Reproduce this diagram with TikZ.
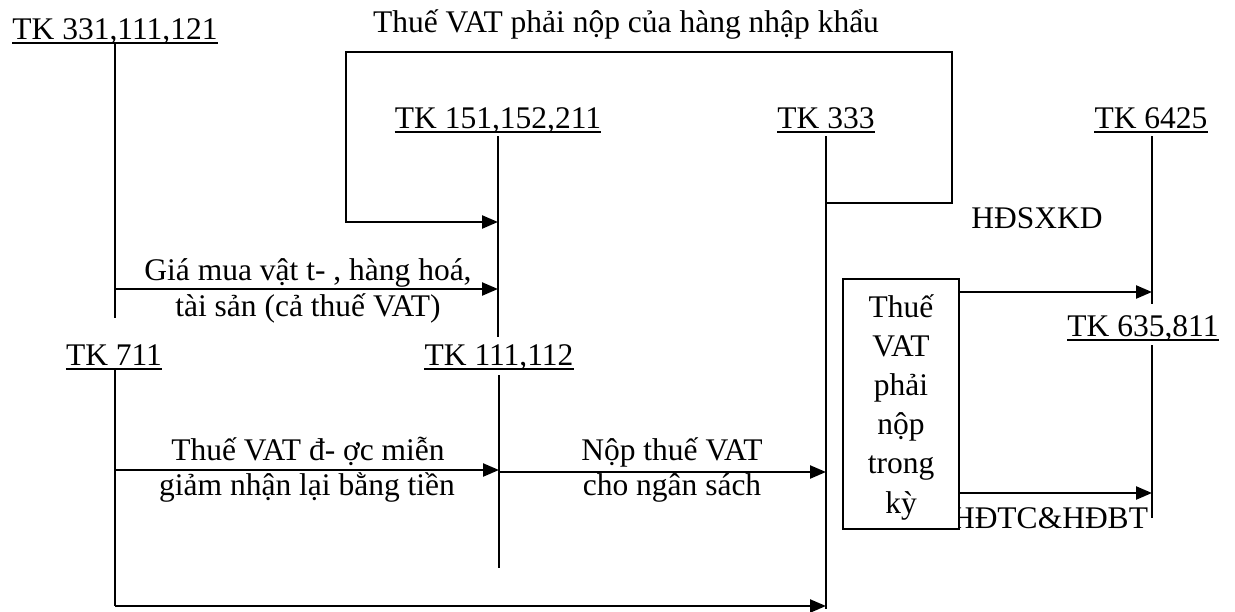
\documentclass[tikz,border=0pt]{standalone}
\usepackage{fontspec}
\setmainfont{Liberation Serif}
\usetikzlibrary{arrows.meta}
\tikzset{
  lbl/.style={font=\fontsize{31.5}{36}\selectfont, inner sep=0pt, anchor=base},
  uline/.style={line width=2.6pt},
  tline/.style={line width=1.6pt},
  arr/.style={line width=2.3pt, -{Triangle[length=16pt,width=13pt]}},
  pline/.style={line width=2.2pt},
  boxst/.style={draw, line width=1.6pt, fill=white, minimum width=116pt, minimum height=250pt, inner sep=0pt}
}
\newcommand{\ul}[1]{\draw[uline] ([yshift=-3.8pt]#1.base west) -- ([yshift=-3.8pt]#1.base east);}
\begin{document}
\begin{tikzpicture}[x=1pt,y=-1pt]
\useasboundingbox (0,0) rectangle (1235,611);

% account labels
\node[lbl] (a331) at (115,39) {TK 331,111,121}; \ul{a331}
\node[lbl] (a151) at (498,128) {TK 151,152,211}; \ul{a151}
\node[lbl] (a333) at (826,128) {TK 333}; \ul{a333}
\node[lbl] (a6425) at (1151,128) {TK 6425}; \ul{a6425}
\node[lbl] (a635) at (1143,336) {TK 635,811}; \ul{a635}
\node[lbl] (a711) at (114,365) {TK 711}; \ul{a711}
\node[lbl] (a111) at (499,365) {TK 111,112}; \ul{a111}

% title and side labels
\node[lbl] (title) at (626,32) {Thuế VAT phải nộp của hàng nhập khẩu};
\node[lbl] (sxkd) at (1037,228) {HĐSXKD};
\node[lbl] (tcbt) at (1050,528) {HĐTC\&HĐBT};

% T-account vertical lines
\coordinate (v331t) at (115,43);  \coordinate (v331b) at (115,318);
\coordinate (v151t) at (498,136); \coordinate (v151b) at (498,337);
\coordinate (v333t) at (826,136); \coordinate (v333b) at (826,609);
\coordinate (v6425t) at (1152,136); \coordinate (v6425b) at (1152,304);
\coordinate (v635t) at (1152,345); \coordinate (v635b) at (1152,518);
\coordinate (v711t) at (115,369);
\coordinate (v111t) at (499,375); \coordinate (v111b) at (499,568);
\draw[tline] (v331t) -- (v331b);
\draw[tline] (v151t) -- (v151b);
\draw[tline] (v333t) -- (v333b);
\draw[tline] (v6425t) -- (v6425b);
\draw[tline] (v635t) -- (v635b);
\draw[tline] (v111t) -- (v111b);

% import VAT loop
\draw[arr] (v333t |- 0,203) -- (952,203) -- (952,52) -- (346,52) -- (346,222) -- (v151t |- 0,222);

% purchase
\draw[arr] (v331t |- 0,289) -- (v151t |- 0,289);
\node[lbl] (g1) at (308,280) {Giá mua vật t- , hàng hoá,};
\node[lbl] (g2) at (308,316) {tài sản (cả thuế VAT)};

% refund
\draw[arr] (v711t |- 0,470) -- (v111t |- 0,470);
\node[lbl] (m1) at (308,460) {Thuế VAT đ- ợc miễn};
\node[lbl] (m2) at (307,495) {giảm nhận lại bằng tiền};

% payment
\draw[arr] (v111t |- 0,472) -- (v333t |- 0,472);
\node[lbl] (n1) at (672,460) {Nộp thuế VAT};
\node[lbl] (n2) at (672,495) {cho ngân sách};

% bottom path from 711 to 333
\draw[tline] (v711t) -- (115,606);
\draw[arr] (115,606) -- (v333t |- 0,606);

% box
\node[boxst] (box) at (901,404) {};
\foreach \t [count=\i from 0] in {Thuế,VAT,phải,nộp,trong,kỳ}
  \node[lbl] (bx\i) at (901,317+39.2*\i) {\t};

\draw[arr] (box.east |- 0,292) -- (v6425b |- 0,292);
\draw[arr] (box.east |- 0,493) -- (v635b |- 0,493);
\end{tikzpicture}
\end{document}
